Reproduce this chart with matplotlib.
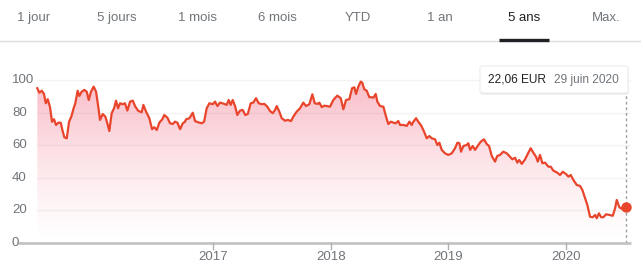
import matplotlib
matplotlib.use("Agg")
import matplotlib.pyplot as plt
import numpy as np
from matplotlib.patches import FancyBboxPatch, Polygon
from matplotlib import transforms

plt.rcParams['font.family'] = ['Liberation Sans', 'DejaVu Sans']

# ---- data (decimal year, price in EUR) ----
t = [2015.507, 2015.524, 2015.545, 2015.564, 2015.579, 2015.596, 2015.615, 2015.632, 2015.649, 2015.666,
     2015.686, 2015.706, 2015.720, 2015.737, 2015.757, 2015.777, 2015.796, 2015.813, 2015.830, 2015.850,
     2015.864, 2015.884, 2015.907, 2015.927, 2015.944, 2015.963, 2015.986, 2016.006, 2016.025, 2016.040,
     2016.063, 2016.085, 2016.102, 2016.119, 2016.139, 2016.159, 2016.176, 2016.193, 2016.210, 2016.233,
     2016.252, 2016.272, 2016.295, 2016.318, 2016.340, 2016.365, 2016.394, 2016.408, 2016.431, 2016.459,
     2016.482, 2016.501, 2016.522, 2016.544, 2016.569, 2016.586, 2016.612, 2016.635, 2016.658, 2016.677,
     2016.697, 2016.720, 2016.743, 2016.762, 2016.771, 2016.799, 2016.828, 2016.847, 2016.875, 2016.904,
     2016.924, 2016.946, 2016.969, 2016.997, 2017.017, 2017.037, 2017.059, 2017.088, 2017.116, 2017.133,
     2017.150, 2017.167, 2017.187, 2017.206, 2017.229, 2017.252, 2017.274, 2017.295, 2017.320, 2017.342,
     2017.365, 2017.388, 2017.414, 2017.436, 2017.461, 2017.484, 2017.507, 2017.527, 2017.541, 2017.563,
     2017.584, 2017.612, 2017.635, 2017.663, 2017.682, 2017.711, 2017.739, 2017.767, 2017.790, 2017.818,
     2017.844, 2017.864, 2017.890, 2017.903, 2017.924, 2017.943, 2017.966, 2017.994, 2018.022, 2018.056,
     2018.085, 2018.107, 2018.130, 2018.158, 2018.181, 2018.200, 2018.215, 2018.234, 2018.255, 2018.268,
     2018.285, 2018.306, 2018.328, 2018.348, 2018.362, 2018.382, 2018.396, 2018.419, 2018.447, 2018.470,
     2018.489, 2018.510, 2018.532, 2018.552, 2018.574, 2018.589, 2018.617, 2018.646, 2018.668, 2018.688,
     2018.702, 2018.725, 2018.744, 2018.765, 2018.787, 2018.816, 2018.838, 2018.858, 2018.886, 2018.906,
     2018.923, 2018.943, 2018.971, 2018.999, 2019.028, 2019.056, 2019.076, 2019.093, 2019.107, 2019.127,
     2019.155, 2019.169, 2019.184, 2019.206, 2019.226, 2019.254, 2019.274, 2019.302, 2019.325, 2019.345,
     2019.368, 2019.396, 2019.415, 2019.438, 2019.466, 2019.495, 2019.523, 2019.543, 2019.566, 2019.585,
     2019.602, 2019.623, 2019.651, 2019.679, 2019.699, 2019.721, 2019.744, 2019.759, 2019.778, 2019.798,
     2019.821, 2019.849, 2019.869, 2019.891, 2019.925, 2019.948, 2019.971, 2019.999, 2020.019, 2020.039,
     2020.061, 2020.090, 2020.118, 2020.138, 2020.161, 2020.180, 2020.203, 2020.226, 2020.246, 2020.260,
     2020.279, 2020.297, 2020.316, 2020.339, 2020.367, 2020.396, 2020.416, 2020.430, 2020.452, 2020.481,
     2020.509]
price = [94.9, 92.2, 93.4, 91.4, 85.7, 88.2, 83.3, 74.4, 75.9, 72.4,
         73.8, 73.8, 69.3, 64.8, 64.2, 74.4, 77.5, 82.0, 85.7, 93.4,
         90.2, 92.8, 93.9, 92.8, 87.7, 92.8, 95.9, 92.8, 83.6, 75.5,
         79.1, 77.5, 73.4, 68.7, 79.6, 82.6, 87.3, 82.6, 85.7, 85.1,
         85.7, 81.2, 86.7, 87.3, 83.6, 81.0, 80.2, 84.7, 80.6, 76.5,
         69.8, 71.0, 69.3, 73.8, 75.9, 78.5, 76.9, 73.4, 73.0, 74.4,
         73.8, 69.8, 73.4, 74.4, 75.9, 76.5, 79.9, 74.8, 74.0, 73.4,
         74.4, 82.6, 85.7, 85.1, 86.7, 84.0, 86.1, 85.5, 84.7, 87.7,
         84.7, 87.7, 84.0, 78.5, 81.2, 81.6, 78.5, 79.1, 85.7, 86.1,
         88.8, 85.7, 85.1, 85.3, 83.6, 81.0, 79.6, 81.6, 84.0, 80.6,
         76.5, 75.0, 75.5, 74.8, 77.5, 80.6, 82.6, 86.1, 84.0, 85.1,
         91.2, 85.7, 85.3, 86.1, 83.3, 84.2, 84.0, 83.6, 87.7, 90.4,
         88.8, 82.0, 87.7, 88.2, 94.9, 95.5, 91.4, 95.9, 99.0, 98.3,
         94.3, 93.4, 89.4, 89.4, 89.1, 91.4, 86.7, 84.0, 83.6, 77.5,
         73.0, 74.4, 73.8, 73.4, 74.8, 72.4, 72.4, 71.8, 74.4, 72.4,
         74.4, 76.5, 74.4, 72.4, 69.3, 64.2, 65.6, 64.2, 63.6, 60.1,
         61.5, 57.1, 55.0, 54.0, 55.0, 58.1, 61.5, 61.2, 56.0, 59.5,
         60.1, 61.2, 57.1, 59.5, 57.1, 60.1, 62.1, 63.6, 60.7, 59.5,
         53.4, 49.9, 53.4, 54.0, 56.0, 55.0, 52.9, 51.3, 52.3, 49.3,
         50.9, 48.5, 51.3, 55.4, 58.1, 55.4, 52.9, 49.9, 54.0, 48.9,
         49.3, 46.8, 46.8, 44.4, 43.1, 41.7, 43.7, 42.3, 40.7, 41.7,
         38.7, 35.6, 35.0, 32.5, 27.4, 23.3, 16.1, 15.8, 17.2, 15.2,
         18.2, 15.8, 15.8, 17.6, 17.2, 16.7, 21.3, 26.4, 21.9, 20.7,
         22.06]

year_ticks = [2017, 2018, 2019, 2020]
year_labels = ["2017", "2018", "2019", "2020"]
y_ticks = [0, 20, 40, 60, 80, 100]
y_labels = ["0", "20", "40", "60", "80", "100"]
tabs = ["1 jour", "5 jours", "1 mois", "6 mois", "YTD", "1 an", "5 ans", "Max."]
active_tab = "5 ans"
tooltip_value = "22,06 EUR"
tooltip_date = "29 juin 2020"

W, H = 641, 266
fig = plt.figure(figsize=(W / 100, H / 100), dpi=100)
fig.patch.set_facecolor("white")

def fx(px):
    return px / W

def fy(py):
    return 1 - py / H

# ---- tab bar ----
tab_x = [34, 117, 197, 277, 358, 440, 524, 606]
for lab, x in zip(tabs, tab_x):
    fig.text(fx(x), fy(18), lab, ha="center", va="center", fontsize=9.5,
             color="#202124" if lab == active_tab else "#70757a")
fig.add_artist(plt.Line2D([0, 1], [fy(41), fy(41)], color="#dadce0", lw=1))
ia = tabs.index(active_tab)
fig.add_artist(plt.Line2D([fx(tab_x[ia] - 25), fx(tab_x[ia] + 25)], [fy(40), fy(40)],
                          color="#202124", lw=2.4, solid_capstyle="butt"))

# ---- chart axes ----
ax = fig.add_axes([fx(18), fy(243), fx(631) - fx(18), fy(70) - fy(243)])
ax.set_xlim(2015.343, 2020.551)
ax.set_ylim(0, 106.1)
ax.axis("off")

tt = np.array(t)
pp = np.array(price)

# gradient fill
grad = np.linspace(0, 1, 256).reshape(-1, 1)
alpha = 0.34 * grad ** 1.3
rgba = np.zeros((256, 1, 4))
rgba[..., 0] = 0.93
rgba[..., 1] = 0.23
rgba[..., 2] = 0.36
rgba[..., 3] = alpha
img = ax.imshow(rgba, extent=[tt[0], tt[-1], 0, 100], origin="lower",
                aspect="auto", zorder=1, interpolation="bilinear")
poly = Polygon(np.column_stack([np.r_[tt[0], tt, tt[-1]], np.r_[0, pp, 0]]),
               closed=True, facecolor="none", edgecolor="none")
ax.add_patch(poly)
img.set_clip_path(poly)

# gridlines
for v in y_ticks[1:]:
    ax.plot([tt[0], ax.get_xlim()[1]], [v, v], color="#f3f3f3", lw=1, zorder=0.5)

# baseline
ax.plot(ax.get_xlim(), [0, 0], color="#c4c4c4", lw=2, zorder=3, clip_on=False,
        solid_capstyle="butt")
for yr, lab in zip(year_ticks, year_labels):
    ax.plot([yr, yr], [0, -3.8], color="#b0b0b0", lw=1, clip_on=False, zorder=3)
    ax.text(yr, -8.8, lab, ha="center", va="center", fontsize=9.5, color="#70757a",
            clip_on=False)

# y labels
trans = transforms.blended_transform_factory(fig.transFigure, ax.transData)
for v, lab in zip(y_ticks, y_labels):
    fig.text(fx(12), v, lab, transform=trans, ha="left", va="center",
             fontsize=9.5, color="#70757a")

# line
ax.plot(tt, pp, color="#e8452c", lw=1.6, zorder=4, solid_joinstyle="round")
ax.plot([tt[-1]], [pp[-1]], "o", color="#e8452c", ms=6.5, zorder=5, clip_on=False)

# dashed vertical marker
ax.plot([tt[-1], tt[-1]], [0, 91.5], color="#9e9e9e", lw=1, ls=(0, (2, 2)), zorder=2)

# ---- tooltip ----
bx0, by0, bx1, by1 = 480, 66, 628, 93
shadow = FancyBboxPatch((fx(bx0 + 0.5), fy(by1 + 1.5)), fx(bx1 - bx0), fy(by0) - fy(by1),
                        boxstyle="round,pad=0,rounding_size=0.006",
                        transform=fig.transFigure, facecolor="#e4e4e4",
                        edgecolor="none", zorder=5)
fig.add_artist(shadow)
box = FancyBboxPatch((fx(bx0), fy(by1)), fx(bx1 - bx0), fy(by0) - fy(by1),
                     boxstyle="round,pad=0,rounding_size=0.006",
                     transform=fig.transFigure, facecolor="white",
                     edgecolor="#ededed", lw=0.8, zorder=6)
fig.add_artist(box)
fig.text(fx(488), fy(80), tooltip_value, ha="left", va="center", fontsize=8.6,
         color="#202124", zorder=7)
fig.text(fx(619), fy(80), tooltip_date, ha="right", va="center", fontsize=8.6,
         color="#70757a", zorder=7)

fig.savefig("out.png", dpi=100, facecolor="white")
